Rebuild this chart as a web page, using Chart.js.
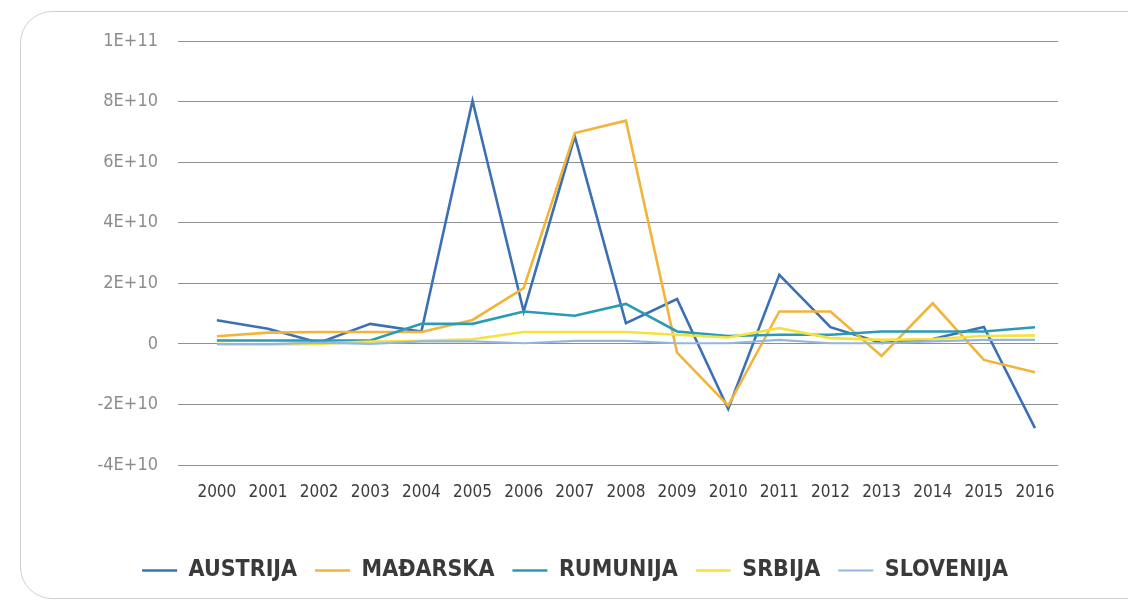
<!DOCTYPE html>
<html>
<head>
<meta charset="utf-8">
<script src="https://cdn.jsdelivr.net/npm/chart.js@4"></script>
<style>
  html, body { margin: 0; padding: 0; background: #ffffff; overflow: hidden; }
  #card { position: absolute; left: 20px; top: 11px; width: 1200px; height: 588px;
          border: 1px solid #d0d0d0; border-radius: 32px; box-sizing: border-box; }
  #wrap { position: absolute; left: 0; top: 0; width: 1128px; height: 603px; }
</style>
</head>
<body>
<div id="card"></div>
<div id="wrap"><canvas id="c" width="1128" height="603"></canvas></div>
<script>
const years = ['2000','2001','2002','2003','2004','2005','2006','2007','2008','2009','2010','2011','2012','2013','2014','2015','2016'];
const seriesNames = ['AUSTRIJA', 'MAĐARSKA', 'RUMUNIJA', 'SRBIJA', 'SLOVENIJA'];
const austrija  = [7.8e9, 5.0e9, 0.4e9, 6.6e9, 4.1e9, 80.3e9, 10.7e9, 68.5e9, 6.8e9, 14.8e9, -21.5e9, 22.8e9, 5.5e9, 0.3e9, 1.6e9, 5.6e9, -27.8e9];
const madarska  = [2.5e9, 3.7e9, 3.9e9, 3.9e9, 3.9e9, 7.9e9, 18.4e9, 69.6e9, 73.7e9, -2.9e9, -20.4e9, 10.7e9, 10.7e9, -4.0e9, 13.4e9, -5.3e9, -9.4e9];
const rumunija  = [1.1e9, 1.1e9, 1.1e9, 1.1e9, 6.6e9, 6.6e9, 10.7e9, 9.3e9, 13.2e9, 4.1e9, 2.6e9, 3.0e9, 3.0e9, 4.1e9, 4.1e9, 4.1e9, 5.5e9];
const srbija    = [0, -0.2e9, 0, 0.8e9, 1.0e9, 1.5e9, 3.9e9, 3.9e9, 3.9e9, 3.0e9, 2.1e9, 5.2e9, 1.9e9, 1.3e9, 1.6e9, 2.6e9, 2.8e9];
const slovenija = [-0.1e9, -0.1e9, 0.4e9, 0, 0.8e9, 0.8e9, 0.2e9, 1.0e9, 1.0e9, 0.2e9, 0.2e9, 1.3e9, 0.2e9, 0.2e9, 0.8e9, 1.3e9, 1.3e9];
const yTicks = [-4e10, -2e10, 0, 2e10, 4e10, 6e10, 8e10, 1e11];

const colors = ['#3b70b5', '#f2b43a', '#2a9bb5', '#f6e23c', '#93b7e0'];
const widths = [2.6, 2.6, 2.6, 2.6, 2.2];
const allSeries = [austrija, madarska, rumunija, srbija, slovenija];

const datasets = allSeries.map((arr, i) => ({
  label: seriesNames[i],
  data: arr.map((v, k) => ({ x: k, y: v })),
  borderColor: colors[i],
  backgroundColor: colors[i],
  borderWidth: widths[i],
  pointRadius: 0,
  tension: 0,
  order: allSeries.length - i
}));

new Chart(document.getElementById('c'), {
  type: 'line',
  data: { datasets },
  options: {
    responsive: false,
    animation: false,
    layout: { padding: { top: 41, left: 92, right: 70, bottom: 11 } },
    plugins: {
      tooltip: { enabled: false },
      legend: {
        position: 'bottom',
        labels: {
          usePointStyle: true,
          pointStyle: 'line',
          pointStyleWidth: 35,
          boxHeight: 3,
          padding: 18,
          color: '#3a3a3a',
          font: { family: '"DejaVu Sans Condensed", "DejaVu Sans"', size: 23, weight: 'bold' },
          sort: (a, b) => a.datasetIndex - b.datasetIndex
        }
      }
    },
    scales: {
      x: {
        type: 'linear',
        min: -0.76,
        max: 16.45,
        afterBuildTicks: (axis) => { axis.ticks = years.map((_, i) => ({ value: i })); },
        afterFit: (scale) => { scale.height = 76; },
        grid: { display: false, drawTicks: false },
        border: { display: false },
        ticks: {
          autoSkip: false,
          maxRotation: 0,
          padding: 17,
          color: '#3c3c3c',
          font: { family: '"DejaVu Sans Condensed", "DejaVu Sans"', size: 17 },
          callback: (v) => years[v]
        }
      },
      y: {
        min: -4e10,
        max: 1e11,
        afterBuildTicks: (axis) => { axis.ticks = yTicks.map(v => ({ value: v })); },
        afterFit: (scale) => { scale.width = 86; },
        grid: { color: '#8f8f8f', lineWidth: 1, drawTicks: false },
        border: { display: false },
        ticks: {
          padding: 20,
          color: '#8c8c8c',
          font: { family: '"DejaVu Sans Condensed", "DejaVu Sans"', size: 18 },
          callback: (v) => v === 0 ? '0' : v.toExponential(0).replace('e', 'E')
        }
      }
    }
  }
});
</script>
</body>
</html>
